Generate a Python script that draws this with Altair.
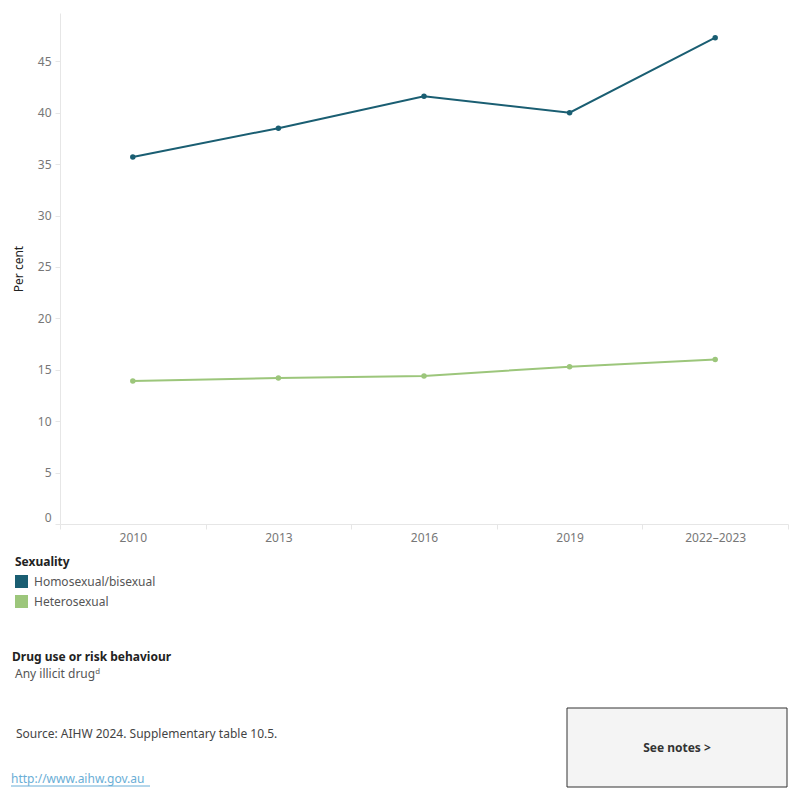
import altair as alt
import pandas as pd

# Survey waves and per cent of people who used any illicit drug, by sexuality
years = ["2010", "2013", "2016", "2019", "2022–2023"]
homosexual_bisexual = [35.7, 38.5, 41.6, 40.0, 47.3]
heterosexual = [13.9, 14.2, 14.4, 15.3, 16.0]
groups = ["Homosexual/bisexual", "Heterosexual"]
colours = ["#1a5e72", "#9cc67b"]
y_ticks = [0, 5, 10, 15, 20, 25, 30, 35, 40, 45]

FONT = "Noto Sans"

rows = []
for g, vals in zip(groups, [homosexual_bisexual, heterosexual]):
    for yr, v in zip(years, vals):
        rows.append({"Year": yr, "Sexuality": g, "Per cent": v})
df = pd.DataFrame(rows)

W, H = 728, 511

x_enc = alt.X(
    "Year:N",
    sort=years,
    scale=alt.Scale(paddingInner=0, paddingOuter=0),
    axis=alt.Axis(
        title=None, labelAngle=0, tickBand="extent", labelColor="#777777",
        labelFontSize=12, labelFont=FONT, labelPadding=3, tickSize=5,
        tickColor="#e6e6e6", domainColor="#e6e6e6", grid=False,
    ),
)
y_enc = alt.Y(
    "Per cent:Q",
    scale=alt.Scale(domain=[0, 49.7], nice=False, zero=True),
    axis=alt.Axis(
        title="Per cent", values=y_ticks, labelColor="#777777", labelFontSize=12,
        labelFont=FONT, titleFont=FONT, titleFontSize=12, titleFontWeight="normal",
        titleColor="#222222", titlePadding=12, tickSize=5, tickColor="#e6e6e6",
        domainColor="#e6e6e6", grid=False, labelFlush=True, labelPadding=4,
    ),
)
colour = alt.Color(
    "Sexuality:N",
    sort=groups,
    scale=alt.Scale(domain=groups, range=colours),
    legend=alt.Legend(
        title="Sexuality", orient="none", legendX=-45, legendY=544,
        symbolType="square", symbolSize=169, symbolStrokeWidth=0,
        symbolOpacity=1,
        titleFont=FONT, titleFontSize=12, titleFontWeight="bold", titleColor="#222222",
        labelFont=FONT, labelFontSize=12, labelColor="#555555", rowPadding=7,
        titlePadding=6, labelOffset=6,
    ),
)

base = alt.Chart(df)
lines = base.mark_line(strokeWidth=2).encode(x=x_enc, y=y_enc, color=colour)
points = base.mark_point(filled=True, size=30, opacity=1).encode(
    x=x_enc, y=y_enc, color=colour
)


def label(text, x, y, size=12, weight="normal", color="#333333", align="left"):
    return alt.Chart(pd.DataFrame({"t": [text]})).mark_text(
        font=FONT, fontSize=size, fontWeight=weight, color=color,
        align=align, baseline="middle",
    ).encode(text="t:N", x=alt.value(x), y=alt.value(y))


filter_title = label("Drug use or risk behaviour", -48, 644, weight="bold", color="#222222")
filter_value = label("Any illicit drugᵈ", -45, 661, color="#555555")
source = label("Source: AIHW 2024. Supplementary table 10.5.", -44, 721, color="#444444")
link = label("http://www.aihw.gov.au", -49, 766, color="#6aaed6")
link_line = alt.Chart(pd.DataFrame({"t": [0]})).mark_rule(color="#6aaed6", strokeWidth=1).encode(
    x=alt.value(-49), x2=alt.value(90), y=alt.value(773)
)
button = alt.Chart(pd.DataFrame({"t": [0]})).mark_rect(
    fill="#f4f4f4", stroke="#333333", strokeWidth=1
).encode(x=alt.value(507), x2=alt.value(727), y=alt.value(695), y2=alt.value(774))
button_text = label("See notes >", 617, 735, weight="bold", color="#333333", align="center")

chart = alt.layer(
    lines, points, filter_title, filter_value, source, link_line, link, button, button_text
).properties(
    width=W, height=H,
    autosize=alt.AutoSizeParams(type="none"),
    padding={"left": 60, "top": 13, "right": 12, "bottom": 276},
).configure(background="white").configure_view(stroke=None, strokeWidth=0)

chart.save("out.html", embed_options={"renderer": "svg", "actions": False})
